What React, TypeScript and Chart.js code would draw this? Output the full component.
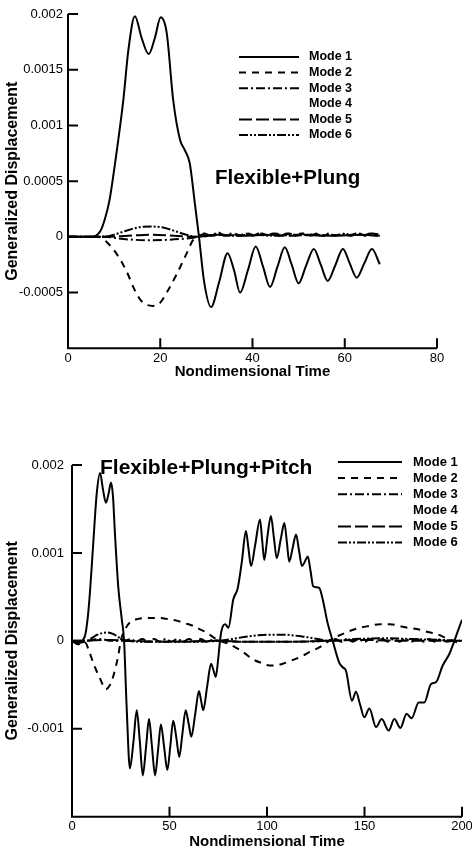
import React, { useEffect, useRef } from "react";
import { Chart, registerables } from "chart.js";

Chart.register(...registerables);

type Pt = [number, number];

const FONT = '"Liberation Sans", Arial, Helvetica, sans-serif';

// ---------------- Shared labels ----------------
const MODE_NAMES = ["Mode 1", "Mode 2", "Mode 3", "Mode 4", "Mode 5", "Mode 6"];
const X_TITLE = "Nondimensional Time";
const Y_TITLE = "Generalized Displacement";

// ---------------- Top panel: Flexible+Plung ----------------
const TOP_NOTE = "Flexible+Plung";
const TOP_X_TICKS = [0, 20, 40, 60, 80];
const TOP_X_LABELS = ["0", "20", "40", "60", "80"];
const TOP_Y_TICKS = [-0.0005, 0, 0.0005, 0.001, 0.0015, 0.002];
const TOP_Y_LABELS = ["-0.0005", "0", "0.0005", "0.001", "0.0015", "0.002"];

const TOP_MODE1: Pt[] = [
  [0, 0], [5, 0], [6, 0.00001], [7, 0.00005], [8, 0.00016], [9, 0.00033], [10.2, 0.00066],
  [12, 0.00123], [13.1, 0.00168], [14.5, 0.00198], [16, 0.00178], [17.5, 0.00164], [18.8, 0.00178],
  [20.1, 0.00197], [21.4, 0.00183], [22.8, 0.00123], [24.3, 0.00087], [25.3, 0.00078],
  [26.4, 0.00066], [27.5, 0.0003], [28.4, 0], [29.5, -0.0004], [31, -0.00063], [32.8, -0.0004],
  [34.6, -0.000146], [36, -0.0003], [37.3, -0.0005], [39, -0.0003], [40.7, -0.000087],
  [42.3, -0.00027], [43.8, -0.00045], [45.4, -0.00027], [47, -0.000093], [48.5, -0.00025],
  [50, -0.000416], [51.6, -0.00026], [53.3, -0.000108], [54.8, -0.00025], [56.3, -0.000395],
  [58, -0.00025], [59.6, -0.000108], [61.1, -0.00024], [62.6, -0.000366], [64.2, -0.00024],
  [65.9, -0.00011], [67.6, -0.000245],
];
const TOP_MODE2: Pt[] = [
  [0, 0], [7, 0], [8.5, -0.00005], [10.5, -0.00015], [12.7, -0.00031], [14.5, -0.00048],
  [16, -0.00058], [18.4, -0.00062], [20, -0.00059], [21.4, -0.0005], [23.5, -0.00034],
  [25.7, -0.00015], [27.1, -0.00003], [28.5, 0.00001], [30, 0.00003], [31.5, 0.00001],
  [33, 0.00003], [34.5, 0.00001], [36, 0.00003], [37.5, 0.00001], [39, 0.00003], [40.5, 0.00001],
  [42, 0.00003], [43.5, 0.00001], [45, 0.00003], [46.5, 0.00001], [48, 0.00003], [49.5, 0.00001],
  [51, 0.00003], [52.5, 0.00001], [54, 0.00003], [55.5, 0.00001], [57, 0.00003], [58.5, 0.00001],
  [60, 0.00003], [61.5, 0.00001], [63, 0.00003], [64.5, 0.00001], [66, 0.00003], [67.6, 0.00002],
];
const TOP_MODE3: Pt[] = [
  [0, 0], [8, 0], [12, -0.00002], [18, -0.00003], [24, -0.00002], [28, 0], [29.5, 0.00003],
  [31, 0.00001], [32.5, 0.00004], [34, 0.00001], [35.5, 0.00003], [37, 0.00001], [38.5, 0.00003],
  [40, 0.00001], [41.5, 0.00003], [43, 0.00001], [44.5, 0.00003], [46, 0.00001], [47.5, 0.00003],
  [49, 0.00001], [50.5, 0.00003], [52, 0.00001], [53.5, 0.00003], [55, 0.00001], [56.5, 0.00003],
  [58, 0.00001], [59.5, 0.00003], [61, 0.00001], [62.5, 0.00003], [64, 0.00001], [65.5, 0.00003],
  [67.6, 0.00002],
];
const TOP_MODE4: Pt[] = [];
const TOP_MODE5: Pt[] = [
  [0, 0], [8, 0], [13, 0.00001], [18, 0.00002], [23, 0.00001], [28, 0], [33, 0.00002],
  [38, 0.00001], [43, 0.00002], [48, 0.00001], [53, 0.00002], [58, 0.00001], [63, 0.00002],
  [67.6, 0.00001],
];
const TOP_MODE6: Pt[] = [
  [0, 0], [7.5, 0], [10, 0.00002], [13, 0.00006], [16, 0.00009], [18.1, 0.000093], [21, 0.00008],
  [24, 0.00004], [26.5, 0.00001], [28, 0], [32, 0.00002], [36, 0.00001], [40, 0.00002],
  [45, 0.00001], [50, 0.00002], [55, 0.00001], [60, 0.00002], [67.6, 0.00001],
];

// ---------------- Bottom panel: Flexible+Plung+Pitch ----------------
const BOT_NOTE = "Flexible+Plung+Pitch";
const BOT_X_TICKS = [0, 50, 100, 150, 200];
const BOT_X_LABELS = ["0", "50", "100", "150", "200"];
const BOT_Y_TICKS = [-0.001, 0, 0.001, 0.002];
const BOT_Y_LABELS = ["-0.001", "0", "0.001", "0.002"];

const BOT_MODE1: Pt[] = [
  [0, 0], [2, -0.00001], [3.1, -0.00003], [4.5, -0.00001], [6.7, 0.00006], [8, 0.00025],
  [9.2, 0.00055], [10.9, 0.00111], [12.7, 0.00168], [14.4, 0.00191], [15.9, 0.00172],
  [17.4, 0.00157], [18.8, 0.00168], [20, 0.0018], [21, 0.00165], [22, 0.00123], [23.7, 0.00062],
  [25.5, 0.00025], [26.7, 0], [28, -0.00074], [29.7, -0.00145], [31.5, -0.00115], [33.2, -0.00079],
  [34.8, -0.00115], [36.3, -0.00153], [38, -0.0012], [39.5, -0.00089], [41, -0.0012],
  [42.6, -0.00153], [44.1, -0.00125], [45.6, -0.00095], [47.2, -0.0012], [48.9, -0.00147],
  [50.4, -0.0012], [51.9, -0.00091], [53.5, -0.0011], [55, -0.00132], [56.6, -0.00106],
  [58.3, -0.00079], [59.8, -0.00094], [61.2, -0.00109], [63.2, -0.00083], [65.1, -0.00057],
  [66.2, -0.00068], [67.3, -0.00079], [69.3, -0.00052], [71.3, -0.00026], [72.5, -0.00033],
  [73.7, -0.00041], [75, -0.0002], [75.9, 0], [76.8, 0.00013], [78.5, 0.00019], [80.2, 0.00015],
  [82.7, 0.00047], [85, 0.0006], [87.1, 0.0009], [89.2, 0.00125], [90.5, 0.00105], [91.8, 0.00085],
  [94, 0.0011], [96.4, 0.00138], [97.5, 0.00115], [98.6, 0.00092], [100.3, 0.0012], [102, 0.00142],
  [103.5, 0.00118], [105, 0.00094], [107, 0.00115], [108.9, 0.00134], [110.2, 0.00112],
  [111.4, 0.0009], [113.1, 0.00105], [114.9, 0.00121], [116.4, 0.00103], [117.9, 0.00085],
  [119.4, 0.0009], [120.9, 0.00096], [122.3, 0.0008], [123.7, 0.00062], [125.2, 0.00061],
  [126.8, 0.0006], [128.5, 0.00048], [131, 0.00021], [133.7, 0], [137.1, -0.00025],
  [138.8, -0.0003], [140.5, -0.00034], [143.6, -0.00068], [145.6, -0.00058], [147.8, -0.00073],
  [149.9, -0.00087], [152.5, -0.00077], [155.9, -0.00098], [158.8, -0.00089], [162.4, -0.00102],
  [165.3, -0.00089], [168.4, -0.00099], [171.6, -0.00083], [174.2, -0.00088], [177.8, -0.0007],
  [180.7, -0.0007], [184.1, -0.00049], [186.7, -0.00047], [190.1, -0.00028], [193.5, -0.00015],
  [196.1, 0], [198, 0.00012], [200, 0.00024],
];
const BOT_MODE2: Pt[] = [
  [0, 0], [3, -0.00002], [6.7, -0.00002], [8.5, -0.0001], [10.9, -0.00025], [14.4, -0.00043],
  [17.4, -0.00055], [19.5, -0.0005], [21.2, -0.0004], [23.7, -0.00017], [25, 0], [27, 0.00012],
  [29.7, 0.00021], [34, 0.00025], [39.1, 0.00026], [44.3, 0.00026], [48.6, 0.00025],
  [53.7, 0.00023], [58, 0.0002], [62.2, 0.00017], [65.6, 0.00013], [69.1, 0.000095],
  [72.5, 0.00004], [75.9, 0], [81, -0.00004], [85.8, -0.0001], [88.5, -0.00014], [92.7, -0.00021],
  [97, -0.00025], [101.2, -0.00028], [104.5, -0.00028], [108.1, -0.00026], [113, -0.00022],
  [118.3, -0.00017], [122.5, -0.00012], [126.8, -0.000075], [131.9, 0], [136, 0.00005],
  [140.5, 0.000095], [146, 0.00014], [152.5, 0.00017], [158, 0.00019], [163, 0.00019],
  [167.8, 0.00017], [172, 0.00015], [178, 0.00013], [182.5, 0.0001], [186.7, 0.00008],
  [191, 0.00004], [195.2, 0], [200, -0.00003],
];
const BOT_MODE3: Pt[] = [
  [0, 0], [3, -0.00004], [6, -0.00001], [10, 0.00001], [15, 0.00002], [20, 0], [27, 0],
  [30, 0.00002], [33, -0.00001], [36, 0.00002], [39, -0.00001], [42, 0.00002], [45, -0.00001],
  [48, 0.00002], [51, -0.00001], [54, 0.00002], [57, -0.00001], [60, 0.00002], [63, -0.00001],
  [66, 0.00002], [69, -0.00001], [72, 0.00001], [76, 0], [90, -0.00001], [110, -0.00001],
  [130, 0], [135, 0.00002], [138, -0.00001], [141, 0.00002], [144, -0.00001], [147, 0.00002],
  [150, -0.00001], [153, 0.00002], [156, -0.00001], [159, 0.00002], [162, -0.00001],
  [165, 0.00002], [168, -0.00001], [171, 0.00002], [174, -0.00001], [177, 0.00002],
  [180, -0.00001], [183, 0.00002], [186, -0.00001], [189, 0.00002], [192, -0.00001],
  [196, 0], [200, 0],
];
const BOT_MODE4: Pt[] = [];
const BOT_MODE5: Pt[] = [
  [0, 0], [4, -0.00002], [8, 0], [20, 0.00001], [30, 0], [50, -0.00001], [75, 0],
  [90, -0.00001], [110, -0.00001], [130, 0], [150, 0.00001], [170, 0], [200, 0],
];
const BOT_MODE6: Pt[] = [
  [0, 0], [7.5, 0], [10, 0.00003], [13, 0.00007], [17.8, 0.000095], [21, 0.00008], [24, 0.00004],
  [26.3, 0.00001], [28, 0], [40, -0.00001], [60, -0.00001], [75, 0], [82, 0.00002],
  [90, 0.00005], [100, 0.00007], [108, 0.00007], [118, 0.00005], [126, 0.00002], [132, 0],
  [145, 0.00002], [160, 0.00003], [175, 0.00002], [190, 0.00001], [200, 0],
];

// ---------------- Styles ----------------
const DASHES: number[][] = [[], [7, 6], [9, 3, 2, 3], [], [13, 4], [9, 2, 2, 2, 2, 2]];
const WIDTHS = [2, 2, 2, 0, 2, 2];

interface Panel {
  width: number;
  height: number;
  pageTop: number;
  xMax: number;
  yMin: number;
  yMax: number;
  xTicks: number[];
  xLabels: string[];
  yTicks: number[];
  yLabels: string[];
  series: Pt[][];
  note: string;
  yAxisW: number;
  xAxisH: number;
  pad: { top: number; right: number; bottom: number };
  yLabelPad: number;
  xTitlePadBottom: number;
  legend: { x0: number; x1: number; tx: number; y0: number; dy: number; size: number };
  noteAt: { x: number; y: number; size: number };
}

const PANELS: Panel[] = [
  {
    width: 472, height: 430, pageTop: 0, xMax: 80, yMin: -0.001, yMax: 0.002,
    xTicks: TOP_X_TICKS, xLabels: TOP_X_LABELS, yTicks: TOP_Y_TICKS, yLabels: TOP_Y_LABELS,
    series: [TOP_MODE1, TOP_MODE2, TOP_MODE3, TOP_MODE4, TOP_MODE5, TOP_MODE6],
    note: TOP_NOTE, yAxisW: 68, xAxisH: 40, pad: { top: 14, right: 35, bottom: 41.7 },
    yLabelPad: 5, xTitlePadBottom: 7.6,
    legend: { x0: 239, x1: 299, tx: 309, y0: 57, dy: 15.6, size: 12.5 },
    noteAt: { x: 215, y: 178, size: 20.5 },
  },
  {
    width: 472, height: 425, pageTop: 430, xMax: 200, yMin: -0.002, yMax: 0.002,
    xTicks: BOT_X_TICKS, xLabels: BOT_X_LABELS, yTicks: BOT_Y_TICKS, yLabels: BOT_Y_LABELS,
    series: [BOT_MODE1, BOT_MODE2, BOT_MODE3, BOT_MODE4, BOT_MODE5, BOT_MODE6],
    note: BOT_NOTE, yAxisW: 72, xAxisH: 35, pad: { top: 35, right: 10, bottom: 3.3 },
    yLabelPad: 8, xTitlePadBottom: 1,
    legend: { x0: 338, x1: 402, tx: 413, y0: 32, dy: 16.1, size: 13 },
    noteAt: { x: 100, y: 38, size: 21 },
  },
];

function makeDecor(p: Panel) {
  return {
    id: "decor",
    afterDraw(chart: any) {
      const { ctx, chartArea: a, scales } = chart;
      const xs = scales.x;
      const ys = scales.y;
      ctx.save();
      ctx.strokeStyle = "#000";
      ctx.fillStyle = "#000";
      ctx.lineWidth = 2;
      ctx.setLineDash([]);
      // axis lines
      ctx.beginPath();
      ctx.moveTo(a.left, a.top);
      ctx.lineTo(a.left, a.bottom);
      ctx.lineTo(a.right, a.bottom);
      ctx.stroke();
      // inward tick marks
      ctx.beginPath();
      for (const v of p.xTicks) {
        const px = xs.getPixelForValue(v);
        ctx.moveTo(px, a.bottom);
        ctx.lineTo(px, a.bottom - 10);
      }
      for (const v of p.yTicks) {
        const py = ys.getPixelForValue(v);
        ctx.moveTo(a.left, py);
        ctx.lineTo(a.left + 10, py);
      }
      ctx.stroke();
      // legend
      const L = p.legend;
      ctx.font = `bold ${L.size}px ${FONT}`;
      ctx.textBaseline = "middle";
      ctx.textAlign = "left";
      chart.data.datasets.forEach((ds: any, i: number) => {
        const y = L.y0 + i * L.dy;
        if (ds.borderWidth > 0) {
          ctx.save();
          ctx.lineWidth = ds.borderWidth;
          ctx.setLineDash(ds.borderDash || []);
          ctx.beginPath();
          ctx.moveTo(L.x0, y);
          ctx.lineTo(L.x1, y);
          ctx.stroke();
          ctx.restore();
        }
        ctx.fillText(ds.label, L.tx, y);
      });
      // annotation
      ctx.font = `bold ${p.noteAt.size}px ${FONT}`;
      ctx.fillText(p.note, p.noteAt.x, p.noteAt.y);
      ctx.restore();
    },
  };
}

function PanelChart({ p }: { p: Panel }) {
  const ref = useRef<HTMLCanvasElement | null>(null);
  useEffect(() => {
    if (!ref.current) return;
    const datasets = p.series.map((s, i) => ({
      label: MODE_NAMES[i],
      data: s.map(([x, y]) => ({ x, y })),
      borderColor: "#000",
      backgroundColor: "#000",
      borderWidth: WIDTHS[i],
      borderDash: DASHES[i],
      pointRadius: 0,
      fill: false,
      cubicInterpolationMode: "monotone" as const,
    }));
    const chart = new Chart(ref.current, {
      type: "line",
      data: { datasets },
      plugins: [makeDecor(p)],
      options: {
        animation: false,
        responsive: false,
        devicePixelRatio: 1,
        layout: { padding: { left: 0, top: p.pad.top, right: p.pad.right, bottom: p.pad.bottom } },
        plugins: { legend: { display: false }, tooltip: { enabled: false }, title: { display: false } },
        scales: {
          x: {
            type: "linear",
            min: 0,
            max: p.xMax,
            grid: { display: false, drawTicks: false, tickLength: 0 },
            border: { display: false },
            afterBuildTicks: (s: any) => {
              s.ticks = p.xTicks.map((v) => ({ value: v }));
            },
            afterFit: (s: any) => {
              s.height = p.xAxisH;
              s.paddingLeft = 0;
              s.paddingRight = 0;
            },
            ticks: {
              autoSkip: false,
              maxRotation: 0,
              padding: 2,
              color: "#000",
              font: { family: FONT, size: 13 },
              callback: (v: any) => {
                const k = p.xTicks.indexOf(Number(v));
                return k >= 0 ? p.xLabels[k] : "";
              },
            },
            title: {
              display: true,
              text: X_TITLE,
              color: "#000",
              font: { family: FONT, size: 15, weight: "bold" },
              padding: { top: 0, bottom: p.xTitlePadBottom },
            },
          },
          y: {
            type: "linear",
            min: p.yMin,
            max: p.yMax,
            grid: { display: false, drawTicks: false, tickLength: 0 },
            border: { display: false },
            afterBuildTicks: (s: any) => {
              s.ticks = p.yTicks.map((v) => ({ value: v }));
            },
            afterFit: (s: any) => {
              s.width = p.yAxisW;
              s.paddingTop = 0;
              s.paddingBottom = 0;
            },
            ticks: {
              autoSkip: false,
              padding: p.yLabelPad,
              color: "#000",
              font: { family: FONT, size: 13 },
              callback: (v: any) => {
                const k = p.yTicks.findIndex((t) => Math.abs(t - Number(v)) < 1e-12);
                return k >= 0 ? p.yLabels[k] : "";
              },
            },
            title: {
              display: true,
              text: Y_TITLE,
              color: "#000",
              font: { family: FONT, size: 16, weight: "bold" },
              padding: { top: 3.4, bottom: 0 },
            },
          },
        },
      },
    });
    return () => chart.destroy();
  }, [p]);
  return (
    <canvas
      ref={ref}
      width={p.width}
      height={p.height}
      style={{ position: "absolute", left: 0, top: p.pageTop, width: p.width, height: p.height, display: "block" }}
    />
  );
}

export default function App() {
  return (
    <div style={{ position: "absolute", left: 0, top: 0, width: 472, height: 855, background: "#fff", overflow: "hidden" }}>
      {PANELS.map((p, i) => (
        <PanelChart key={i} p={p} />
      ))}
    </div>
  );
}
